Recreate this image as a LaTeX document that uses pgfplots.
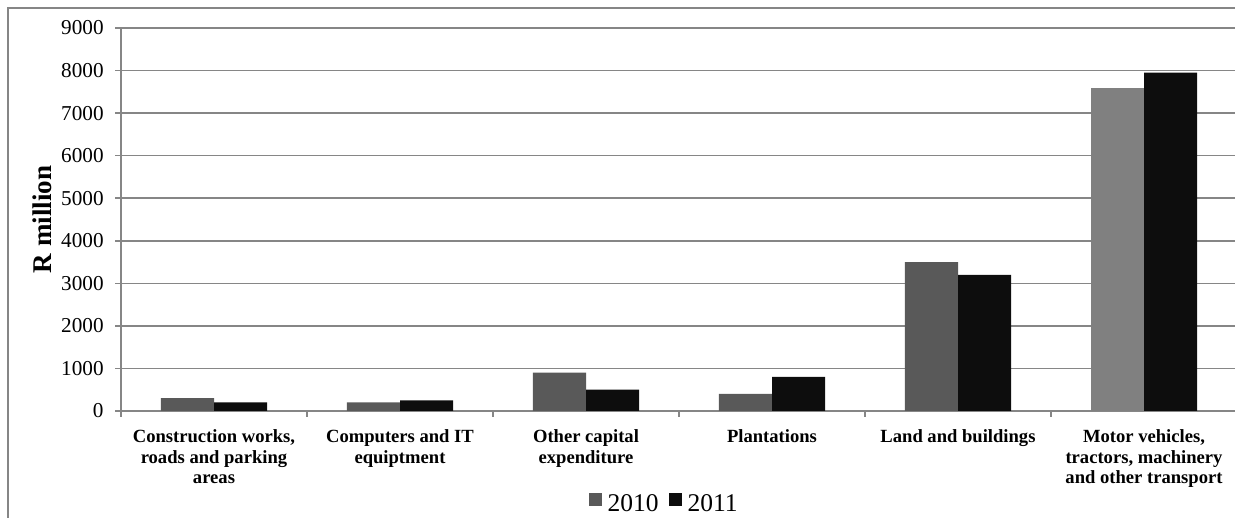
\documentclass[border=0pt]{standalone}
\usepackage{fontspec}
\setmainfont{Liberation Serif}
\usepackage{pgfplots}
\pgfplotsset{compat=1.18}
\definecolor{gridgray}{HTML}{868686}
\definecolor{bara}{HTML}{595959}
\definecolor{barb}{HTML}{0D0D0D}
\definecolor{barc}{HTML}{808080}
\begin{document}
\begin{tikzpicture}
\path[use as bounding box] (-60.5pt,-53.5pt) rectangle (557pt,205.5pt);
\draw[gridgray, line width=0.8pt] (-56.5pt,-80pt) -- (-56.5pt,201.5pt) -- (620pt,201.5pt);
\begin{axis}[
  at={(0pt,0pt)}, anchor=south west,
  scale only axis, width=558pt, height=191.5pt,
  ybar,
  xmin=-0.5, xmax=5.5, ymin=0, ymax=9000,
  ytick={0,1000,...,9000},
  xtick={0,...,5},
  minor xtick={-0.5,0.5,...,5.5},
  xticklabels={{Construction works,\\roads and parking\\areas},
               {Computers and IT\\equiptment},
               {Other capital\\expenditure},
               {Plantations},
               {Land and buildings},
               {Motor vehicles,\\tractors, machinery\\and other transport}},
  axis x line=bottom, axis y line=left,
  axis line style={gridgray, line width=0.8pt, -},
  tick align=outside,
  major tick length=3pt, minor tick length=3pt,
  xtick style={draw=none},
  minor x tick style={gridgray, line width=0.8pt, draw=gridgray},
  ytick style={gridgray, line width=0.8pt},
  ymajorgrids, grid style={gridgray, line width=0.8pt},
  /pgf/number format/1000 sep={},
  /pgf/number format/assume math mode=true,
  yticklabel style={font=\fontsize{10.6}{12}\selectfont, inner sep=0pt, xshift=-5.5pt},
  xticklabel style={font=\bfseries\fontsize{9.3}{10.4}\selectfont, align=center, inner sep=0pt, anchor=north, yshift=-6pt},
  every axis y label/.style={at={(axis description cs:0,0.5)}, xshift=-39.5pt, rotate=90, anchor=center, font=\bfseries\fontsize{13.5}{15}\selectfont},
  ylabel={R million},
  bar width=0.285,
  legend style={at={(0.4866,-0.245)}, anchor=center, draw=none, fill=none,
     font=\fontsize{12.75}{14}\selectfont, legend columns=2, inner sep=0pt,
     nodes={inner sep=1pt},
     /tikz/every even column/.style={column sep=4pt}},
  legend image code/.code={\fill[#1] (0pt,-0.4pt) rectangle (6.5pt,6.1pt); \path (0pt,0pt) (8.5pt,0pt);},
]
\addplot[fill=bara, draw=none, bar shift=-0.1425] coordinates {(0,300) (1,200) (2,900) (3,400) (4,3500)};
\addlegendentry{2010}
\addplot[fill=barc, draw=none, bar shift=-0.1425, forget plot] coordinates {(5,7600)};
\addplot[fill=barb, draw=none, bar shift=0.1425] coordinates {(0,200) (1,250) (2,500) (3,800) (4,3200) (5,7950)};
\addlegendentry{2011}
\end{axis}
\end{tikzpicture}
\end{document}
